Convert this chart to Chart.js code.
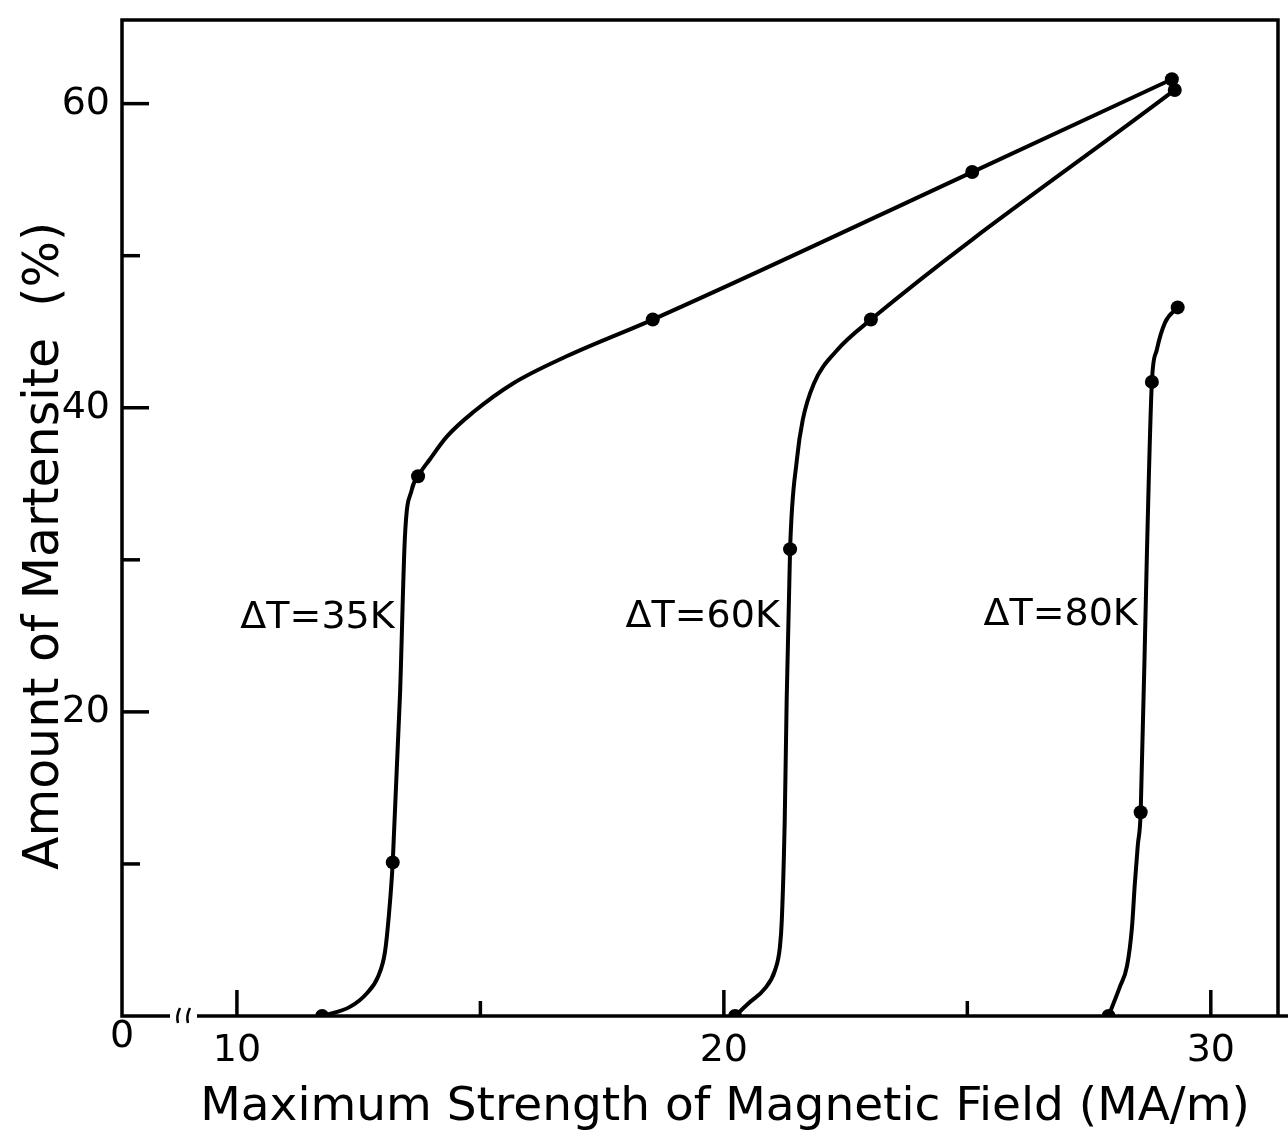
<!DOCTYPE html>
<html>
<head>
<meta charset="utf-8">
<script src="https://cdn.jsdelivr.net/npm/chart.js@4.4.0/dist/chart.umd.min.js"></script>
<style>
	html, body { margin: 0; padding: 0; background: #fff; }
	.chart { width: 1288px; height: 1134px; }
</style>
</head>
<body>
<div class="chart"><canvas id="chartMartensite"></canvas></div>
<script>
const field35K = [11.75, 13.2, 13.72, 18.54, 25.1, 29.2];
const amount35K = [0, 10.1, 35.5, 45.8, 55.5, 61.6];

const field60K = [20.23, 21.36, 23.02, 29.26];
const amount60K = [0, 30.7, 45.8, 60.9];

const field80K = [27.9, 28.56, 28.79, 29.32];
const amount80K = [0, 13.4, 41.7, 46.6];

// hand drawn curves
const curveField35K = [11.75, 12.32, 12.67, 12.9, 13.04, 13.12, 13.2, 13.35, 13.45, 13.59, 13.72, 13.96, 14.31, 14.85, 15.67, 16.78, 18.54, 25.1, 29.2];
const curveAmount35K = [0, 0.6, 1.5, 2.6, 4.2, 6.6, 10.1, 21.2, 31.5, 34.6, 35.5, 36.6, 38.1, 39.7, 41.6, 43.4, 45.8, 55.5, 61.6];

const curveField60K = [20.23, 20.53, 20.84, 21.05, 21.15, 21.19, 21.25, 21.29, 21.36, 21.5, 21.62, 21.85, 22.3, 23.02, 29.26];
const curveAmount60K = [0, 0.9, 1.8, 3.0, 4.5, 6.3, 12.9, 20.8, 30.7, 36.6, 39.2, 41.6, 43.7, 45.8, 60.9];

const curveField80K = [27.9, 28.13, 28.28, 28.38, 28.44, 28.5, 28.56, 28.69, 28.79, 28.89, 29.06, 29.32];
const curveAmount80K = [0, 1.9, 3.3, 5.8, 8.7, 11.2, 13.4, 30.7, 41.7, 43.8, 45.6, 46.6];

const curveLabels = ['\u0394T=35K', '\u0394T=60K', '\u0394T=80K'];
const curveLabelX = [13.24, 21.15, 28.5];
const curveLabelY = [25.5, 25.6, 25.7];

const xTickLabels = [10, 20, 30];
const xMinorTicks = [15, 25];
const yTickLabels = [20, 40, 60];
const yMinorTicks = [10, 30, 50];

const xTitle = 'Maximum Strength of Magnetic Field (MA/m)';
const yTitle = 'Amount of Martensite  (%)';

const font = "'DejaVu Sans', sans-serif";

const toPoints = (xs, ys) => xs.map((x, i) => ({ x, y: ys[i] }));

const makeCurve = (xs, ys) => ({
	data: toPoints(xs, ys),
	borderColor: '#000',
	borderWidth: 4,
	pointRadius: 0,
	cubicInterpolationMode: 'monotone',
	fill: false,
});

const makeDots = (xs, ys) => ({
	data: toPoints(xs, ys),
	showLine: false,
	pointRadius: 7,
	pointBackgroundColor: '#000',
	pointBorderWidth: 0,
});

// frame, inward ticks, axis break, curve labels and axis titles
const decorations = {
	id: 'decorations',
	afterDraw(chart) {
		const ctx = chart.ctx;
		const { left, right, top, bottom } = chart.chartArea;
		const xs = chart.scales.x;
		const ys = chart.scales.y;

		ctx.save();
		ctx.strokeStyle = '#000';
		ctx.lineWidth = 3.5;
		ctx.lineCap = 'butt';

		ctx.beginPath();
		ctx.moveTo(left + 48, bottom);
		ctx.lineTo(left, bottom);
		ctx.lineTo(left, top);
		ctx.lineTo(right, top);
		ctx.lineTo(right, bottom);
		ctx.stroke();

		ctx.beginPath();
		ctx.moveTo(left + 75, bottom);
		ctx.lineTo(chart.width, bottom);
		ctx.stroke();

		// break marks
		ctx.lineWidth = 2.5;
		[56, 66].forEach((dx) => {
			ctx.beginPath();
			ctx.moveTo(left + dx + 2, bottom - 8);
			ctx.quadraticCurveTo(left + dx - 2, bottom, left + dx, bottom + 7);
			ctx.stroke();
		});

		ctx.lineWidth = 3.5;
		xTickLabels.forEach((v) => {
			const px = xs.getPixelForValue(v);
			ctx.beginPath();
			ctx.moveTo(px, bottom);
			ctx.lineTo(px, bottom - 26);
			ctx.stroke();
		});
		xMinorTicks.forEach((v) => {
			const px = xs.getPixelForValue(v);
			ctx.beginPath();
			ctx.moveTo(px, bottom);
			ctx.lineTo(px, bottom - 15);
			ctx.stroke();
		});
		yTickLabels.forEach((v) => {
			const py = ys.getPixelForValue(v);
			ctx.beginPath();
			ctx.moveTo(left, py);
			ctx.lineTo(left + 27, py);
			ctx.stroke();
		});
		yMinorTicks.forEach((v) => {
			const py = ys.getPixelForValue(v);
			ctx.beginPath();
			ctx.moveTo(left, py);
			ctx.lineTo(left + 18, py);
			ctx.stroke();
		});

		ctx.fillStyle = '#000';
		ctx.font = `38px ${font}`;
		ctx.textAlign = 'center';
		ctx.textBaseline = 'middle';
		ctx.fillText('0', left, bottom + 21);

		ctx.textAlign = 'right';
		ctx.textBaseline = 'alphabetic';
		curveLabels.forEach((text, i) => {
			ctx.fillText(
				text,
				xs.getPixelForValue(curveLabelX[i]),
				ys.getPixelForValue(curveLabelY[i])
			);
		});

		ctx.font = `47px ${font}`;
		ctx.textAlign = 'center';
		ctx.fillText(xTitle, (left + right) / 2 + 25, bottom + 104);

		ctx.font = `49px ${font}`;
		ctx.translate(58, (top + bottom) / 2 + 28);
		ctx.rotate(-Math.PI / 2);
		ctx.fillText(yTitle, 0, 0);
		ctx.restore();
	},
};

const data = {
	datasets: [
		makeCurve(curveField35K, curveAmount35K),
		makeCurve(curveField60K, curveAmount60K),
		makeCurve(curveField80K, curveAmount80K),
		makeDots(field35K, amount35K),
		makeDots(field60K, amount60K),
		makeDots(field80K, amount80K),
	],
};

const config = {
	type: 'line',
	data,
	options: {
		responsive: true,
		maintainAspectRatio: false,
		animation: false,
		layout: { padding: { top: 20, right: 10, left: 0, bottom: 0 } },
		plugins: {
			legend: { display: false },
			tooltip: { enabled: false },
		},
		scales: {
			x: {
				type: 'linear',
				min: 7.64,
				max: 31.38,
				grid: { display: false, drawTicks: false },
				border: { display: false },
				afterBuildTicks: (scale) => {
					scale.ticks = xTickLabels.map((value) => ({ value }));
				},
				afterFit: (scale) => {
					scale.height = 118;
					scale.paddingLeft = 0;
					scale.paddingRight = 0;
				},
				ticks: {
					color: '#000',
					font: { family: font, size: 38 },
					padding: 12,
					maxRotation: 0,
					autoSkip: false,
				},
			},
			y: {
				type: 'linear',
				min: 0,
				max: 65.5,
				grid: { display: false, drawTicks: false },
				border: { display: false },
				afterBuildTicks: (scale) => {
					scale.ticks = yTickLabels.map((value) => ({ value }));
				},
				afterFit: (scale) => {
					scale.width = 122;
					scale.paddingTop = 0;
					scale.paddingBottom = 0;
				},
				ticks: {
					color: '#000',
					font: { family: font, size: 38 },
					padding: 12,
					autoSkip: false,
				},
			},
		},
	},
	plugins: [decorations],
};

const ctx = document.getElementById('chartMartensite').getContext('2d');
const martensiteChart = new Chart(ctx, config);
</script>
</body>
</html>
